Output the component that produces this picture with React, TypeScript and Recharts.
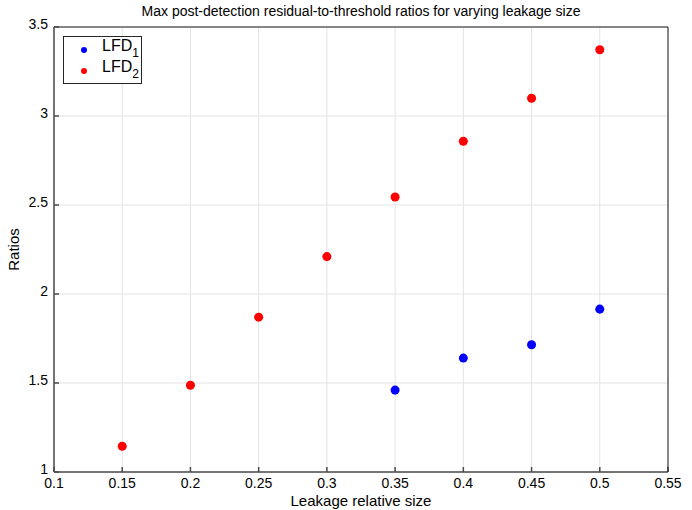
import React from 'react';
import { ScatterChart, Scatter, XAxis, YAxis, ZAxis, CartesianGrid, Label } from 'recharts';

const lfd1Sizes = [0.35, 0.4, 0.45, 0.5];
const lfd1Ratios = [1.46, 1.64, 1.715, 1.915];
const lfd2Sizes = [0.15, 0.2, 0.25, 0.3, 0.35, 0.4, 0.45, 0.5];
const lfd2Ratios = [1.145, 1.487, 1.87, 2.21, 2.545, 2.858, 3.1, 3.372];
const xTicks = [0.1, 0.15, 0.2, 0.25, 0.3, 0.35, 0.4, 0.45, 0.5, 0.55];
const yTicks = [1, 1.5, 2, 2.5, 3, 3.5];

const lfd1 = lfd1Sizes.map((x, i) => ({ x, y: lfd1Ratios[i] }));
const lfd2 = lfd2Sizes.map((x, i) => ({ x, y: lfd2Ratios[i] }));

const font = 'Helvetica, "Liberation Sans", Arial, sans-serif';
const axisColor = '#4a4a4a';

const LegendBox = () => (
  <div
    style={{
      position: 'absolute',
      left: 63,
      top: 36,
      width: 79,
      height: 48,
      border: '1px solid #262626',
      background: '#fff',
      fontFamily: font,
      fontSize: 16,
      color: '#000',
      boxSizing: 'border-box',
      paddingTop: 2,
    }}
  >
    {[
      { name: '1', color: '#0000ff' },
      { name: '2', color: '#ff0000' },
    ].map((e) => (
      <div key={e.name} style={{ display: 'flex', alignItems: 'center', height: 21, lineHeight: '16px' }}>
        <span style={{ width: 6, height: 6, borderRadius: 3, background: e.color, marginLeft: 17, marginRight: 15 }} />
        <span>
          LFD<sub style={{ fontSize: 12, verticalAlign: -6 }}>{e.name}</sub>
        </span>
      </div>
    ))}
  </div>
);

export default function App() {
  return (
    <div style={{ position: 'absolute', left: 0, top: 0, width: 692, height: 510, background: '#fff' }}>
      <div
        style={{
          position: 'absolute',
          left: 54,
          width: 614,
          top: 3,
          textAlign: 'center',
          fontFamily: font,
          fontSize: 14,
          color: '#000',
        }}
      >
        Max post-detection residual-to-threshold ratios for varying leakage size
      </div>
      <ScatterChart width={692} height={510} margin={{ top: 22, right: 19, bottom: 0, left: 14 }}>
        <CartesianGrid stroke="#e3e3e3" strokeWidth={1} />
        <XAxis
          type="number"
          dataKey="x"
          domain={[0.1, 0.55]}
          ticks={xTicks}
          height={38}
          tickSize={-5}
          tickMargin={11}
          stroke={axisColor}
          strokeWidth={1.5}
          tick={{ fill: '#000', fontSize: 14, fontFamily: font }}
          tickFormatter={(v: number) => String(v)}
          interval={0}
        >
          <Label
            value="Leakage relative size"
            position="insideBottom"
            offset={4}
            style={{ fill: '#000', fontSize: 15, fontFamily: font }}
          />
        </XAxis>
        <XAxis
          xAxisId="top"
          orientation="top"
          type="number"
          domain={[0.1, 0.55]}
          ticks={xTicks}
          height={5}
          tickSize={-5}
          stroke="#1a1a1a"
          tickFormatter={() => ''}
          interval={0}
        />
        <YAxis
          type="number"
          dataKey="y"
          domain={[1, 3.5]}
          ticks={yTicks}
          width={40}
          tickSize={-5}
          tickMargin={11}
          stroke={axisColor}
          strokeWidth={1.5}
          tick={{ fill: '#000', fontSize: 14, fontFamily: font, dy: -3 }}
          tickFormatter={(v: number) => String(v)}
          interval={0}
        >
          <Label
            value="Ratios"
            angle={-90}
            position="insideLeft"
            offset={0}
            style={{ fill: '#000', fontSize: 15, fontFamily: font, textAnchor: 'middle' }}
          />
        </YAxis>
        <YAxis
          yAxisId="right"
          orientation="right"
          type="number"
          domain={[1, 3.5]}
          ticks={yTicks}
          width={5}
          tickSize={-5}
          stroke="#1a1a1a"
          tickFormatter={() => ''}
          interval={0}
        />
        <ZAxis range={[72, 72]} />
        <Scatter name="LFD1" data={lfd1} fill="#0000ff" isAnimationActive={false} />
        <Scatter name="LFD2" data={lfd2} fill="#ff0000" isAnimationActive={false} />
      </ScatterChart>
      <LegendBox />
    </div>
  );
}
